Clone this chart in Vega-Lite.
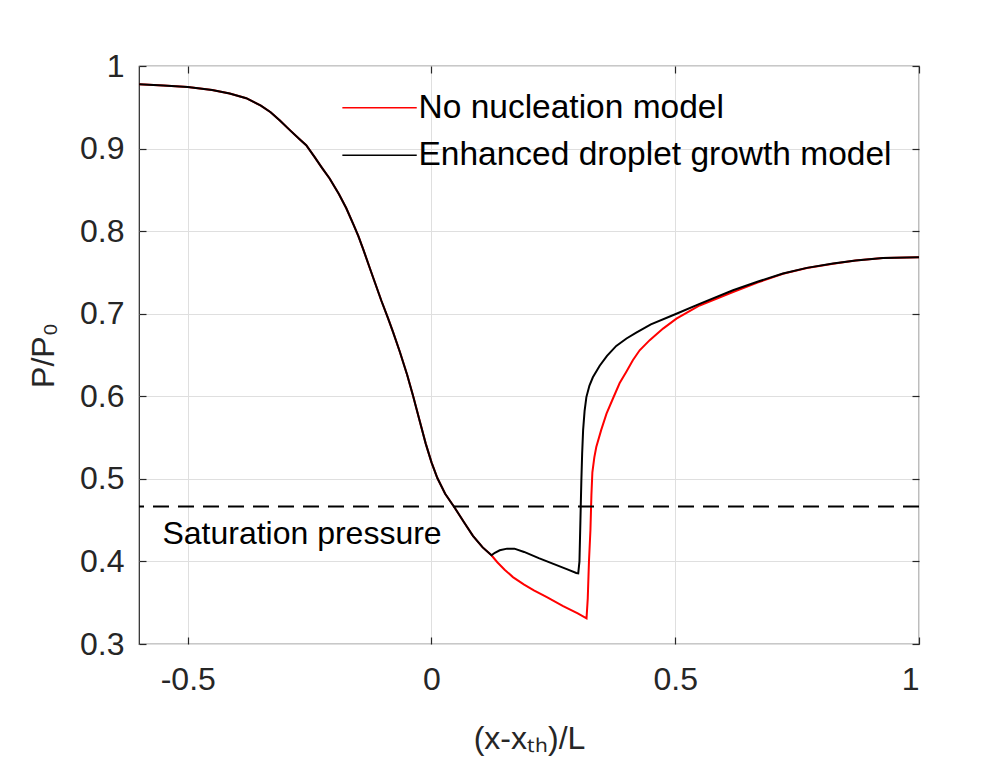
{
  "$schema": "https://vega.github.io/schema/vega-lite/v6.json",
  "width": 780,
  "height": 578,
  "autosize": "none",
  "padding": {"left": 139, "top": 66, "right": 88, "bottom": 117},
  "background": "white",
  "config": {
    "view": {"stroke": "#262626", "strokeWidth": 1.2},
    "font": "Liberation Sans",
    "axis": {
      "labelFont": "Liberation Sans",
      "titleFont": "Liberation Sans",
      "labelColor": "#262626",
      "titleColor": "#262626",
      "tickColor": "#262626",
      "gridColor": "#dfdfdf",
      "gridWidth": 1,
      "domain": false,
      "tickSize": -7,
      "tickWidth": 1.2,
      "labelFontSize": 32,
      "titleFontSize": 32,
      "titleFontWeight": "normal"
    }
  },
  "layer": [
    {
      "data": {
        "values": [
          {"model": "No nucleation model", "x": -0.6, "p": 0.978},
          {"model": "No nucleation model", "x": -0.55, "p": 0.9765},
          {"model": "No nucleation model", "x": -0.5, "p": 0.9746},
          {"model": "No nucleation model", "x": -0.45, "p": 0.971},
          {"model": "No nucleation model", "x": -0.414, "p": 0.9666},
          {"model": "No nucleation model", "x": -0.38, "p": 0.961},
          {"model": "No nucleation model", "x": -0.35, "p": 0.952},
          {"model": "No nucleation model", "x": -0.33, "p": 0.944},
          {"model": "No nucleation model", "x": -0.311, "p": 0.934},
          {"model": "No nucleation model", "x": -0.29, "p": 0.922},
          {"model": "No nucleation model", "x": -0.27, "p": 0.911},
          {"model": "No nucleation model", "x": -0.257, "p": 0.904},
          {"model": "No nucleation model", "x": -0.24, "p": 0.89},
          {"model": "No nucleation model", "x": -0.225, "p": 0.877},
          {"model": "No nucleation model", "x": -0.209, "p": 0.8637},
          {"model": "No nucleation model", "x": -0.19, "p": 0.845},
          {"model": "No nucleation model", "x": -0.175, "p": 0.828},
          {"model": "No nucleation model", "x": -0.16, "p": 0.808},
          {"model": "No nucleation model", "x": -0.15, "p": 0.794},
          {"model": "No nucleation model", "x": -0.14, "p": 0.778},
          {"model": "No nucleation model", "x": -0.127, "p": 0.756},
          {"model": "No nucleation model", "x": -0.115, "p": 0.736},
          {"model": "No nucleation model", "x": -0.103, "p": 0.716},
          {"model": "No nucleation model", "x": -0.09, "p": 0.696},
          {"model": "No nucleation model", "x": -0.079, "p": 0.678},
          {"model": "No nucleation model", "x": -0.065, "p": 0.654},
          {"model": "No nucleation model", "x": -0.05, "p": 0.626},
          {"model": "No nucleation model", "x": -0.038, "p": 0.601},
          {"model": "No nucleation model", "x": -0.025, "p": 0.572},
          {"model": "No nucleation model", "x": -0.012, "p": 0.543},
          {"model": "No nucleation model", "x": 0.0, "p": 0.52},
          {"model": "No nucleation model", "x": 0.012, "p": 0.501},
          {"model": "No nucleation model", "x": 0.028, "p": 0.482},
          {"model": "No nucleation model", "x": 0.0476, "p": 0.465},
          {"model": "No nucleation model", "x": 0.066, "p": 0.448},
          {"model": "No nucleation model", "x": 0.085, "p": 0.431},
          {"model": "No nucleation model", "x": 0.105, "p": 0.417},
          {"model": "No nucleation model", "x": 0.123, "p": 0.4074},
          {"model": "No nucleation model", "x": 0.135, "p": 0.399},
          {"model": "No nucleation model", "x": 0.15, "p": 0.39},
          {"model": "No nucleation model", "x": 0.167, "p": 0.381},
          {"model": "No nucleation model", "x": 0.19, "p": 0.372},
          {"model": "No nucleation model", "x": 0.21, "p": 0.365},
          {"model": "No nucleation model", "x": 0.2357, "p": 0.357},
          {"model": "No nucleation model", "x": 0.27, "p": 0.346},
          {"model": "No nucleation model", "x": 0.3, "p": 0.337},
          {"model": "No nucleation model", "x": 0.318, "p": 0.331},
          {"model": "No nucleation model", "x": 0.3205, "p": 0.355},
          {"model": "No nucleation model", "x": 0.323, "p": 0.4},
          {"model": "No nucleation model", "x": 0.326, "p": 0.4377},
          {"model": "No nucleation model", "x": 0.328, "p": 0.48},
          {"model": "No nucleation model", "x": 0.33, "p": 0.508},
          {"model": "No nucleation model", "x": 0.334, "p": 0.526},
          {"model": "No nucleation model", "x": 0.338, "p": 0.5386},
          {"model": "No nucleation model", "x": 0.348, "p": 0.559},
          {"model": "No nucleation model", "x": 0.359, "p": 0.579},
          {"model": "No nucleation model", "x": 0.372, "p": 0.597},
          {"model": "No nucleation model", "x": 0.386, "p": 0.616},
          {"model": "No nucleation model", "x": 0.4, "p": 0.63},
          {"model": "No nucleation model", "x": 0.413, "p": 0.6436},
          {"model": "No nucleation model", "x": 0.427, "p": 0.6557},
          {"model": "No nucleation model", "x": 0.4476, "p": 0.668},
          {"model": "No nucleation model", "x": 0.475, "p": 0.682},
          {"model": "No nucleation model", "x": 0.5024, "p": 0.694},
          {"model": "No nucleation model", "x": 0.55, "p": 0.71},
          {"model": "No nucleation model", "x": 0.6185, "p": 0.7263},
          {"model": "No nucleation model", "x": 0.67, "p": 0.738},
          {"model": "No nucleation model", "x": 0.721, "p": 0.7483},
          {"model": "No nucleation model", "x": 0.77, "p": 0.7553},
          {"model": "No nucleation model", "x": 0.8236, "p": 0.7605},
          {"model": "No nucleation model", "x": 0.87, "p": 0.7644},
          {"model": "No nucleation model", "x": 0.926, "p": 0.7674},
          {"model": "No nucleation model", "x": 1.0, "p": 0.7685},

          {"model": "Enhanced droplet growth model", "x": -0.6, "p": 0.978},
          {"model": "Enhanced droplet growth model", "x": -0.55, "p": 0.9765},
          {"model": "Enhanced droplet growth model", "x": -0.5, "p": 0.9746},
          {"model": "Enhanced droplet growth model", "x": -0.45, "p": 0.971},
          {"model": "Enhanced droplet growth model", "x": -0.414, "p": 0.9666},
          {"model": "Enhanced droplet growth model", "x": -0.38, "p": 0.961},
          {"model": "Enhanced droplet growth model", "x": -0.35, "p": 0.952},
          {"model": "Enhanced droplet growth model", "x": -0.33, "p": 0.944},
          {"model": "Enhanced droplet growth model", "x": -0.311, "p": 0.934},
          {"model": "Enhanced droplet growth model", "x": -0.29, "p": 0.922},
          {"model": "Enhanced droplet growth model", "x": -0.27, "p": 0.911},
          {"model": "Enhanced droplet growth model", "x": -0.257, "p": 0.904},
          {"model": "Enhanced droplet growth model", "x": -0.24, "p": 0.89},
          {"model": "Enhanced droplet growth model", "x": -0.225, "p": 0.877},
          {"model": "Enhanced droplet growth model", "x": -0.209, "p": 0.8637},
          {"model": "Enhanced droplet growth model", "x": -0.19, "p": 0.845},
          {"model": "Enhanced droplet growth model", "x": -0.175, "p": 0.828},
          {"model": "Enhanced droplet growth model", "x": -0.16, "p": 0.808},
          {"model": "Enhanced droplet growth model", "x": -0.15, "p": 0.794},
          {"model": "Enhanced droplet growth model", "x": -0.14, "p": 0.778},
          {"model": "Enhanced droplet growth model", "x": -0.127, "p": 0.756},
          {"model": "Enhanced droplet growth model", "x": -0.115, "p": 0.736},
          {"model": "Enhanced droplet growth model", "x": -0.103, "p": 0.716},
          {"model": "Enhanced droplet growth model", "x": -0.09, "p": 0.696},
          {"model": "Enhanced droplet growth model", "x": -0.079, "p": 0.678},
          {"model": "Enhanced droplet growth model", "x": -0.065, "p": 0.654},
          {"model": "Enhanced droplet growth model", "x": -0.05, "p": 0.626},
          {"model": "Enhanced droplet growth model", "x": -0.038, "p": 0.601},
          {"model": "Enhanced droplet growth model", "x": -0.025, "p": 0.572},
          {"model": "Enhanced droplet growth model", "x": -0.012, "p": 0.543},
          {"model": "Enhanced droplet growth model", "x": 0.0, "p": 0.52},
          {"model": "Enhanced droplet growth model", "x": 0.012, "p": 0.501},
          {"model": "Enhanced droplet growth model", "x": 0.028, "p": 0.482},
          {"model": "Enhanced droplet growth model", "x": 0.0476, "p": 0.465},
          {"model": "Enhanced droplet growth model", "x": 0.066, "p": 0.448},
          {"model": "Enhanced droplet growth model", "x": 0.085, "p": 0.431},
          {"model": "Enhanced droplet growth model", "x": 0.105, "p": 0.417},
          {"model": "Enhanced droplet growth model", "x": 0.123, "p": 0.4074},
          {"model": "Enhanced droplet growth model", "x": 0.13, "p": 0.4105},
          {"model": "Enhanced droplet growth model", "x": 0.14, "p": 0.4135},
          {"model": "Enhanced droplet growth model", "x": 0.155, "p": 0.4155},
          {"model": "Enhanced droplet growth model", "x": 0.17, "p": 0.4155},
          {"model": "Enhanced droplet growth model", "x": 0.19, "p": 0.4115},
          {"model": "Enhanced droplet growth model", "x": 0.22, "p": 0.404},
          {"model": "Enhanced droplet growth model", "x": 0.25, "p": 0.397},
          {"model": "Enhanced droplet growth model", "x": 0.28, "p": 0.39},
          {"model": "Enhanced droplet growth model", "x": 0.297, "p": 0.386},
          {"model": "Enhanced droplet growth model", "x": 0.301, "p": 0.3855},
          {"model": "Enhanced droplet growth model", "x": 0.3035, "p": 0.4},
          {"model": "Enhanced droplet growth model", "x": 0.3055, "p": 0.45},
          {"model": "Enhanced droplet growth model", "x": 0.3074, "p": 0.498},
          {"model": "Enhanced droplet growth model", "x": 0.309, "p": 0.53},
          {"model": "Enhanced droplet growth model", "x": 0.311, "p": 0.559},
          {"model": "Enhanced droplet growth model", "x": 0.314, "p": 0.582},
          {"model": "Enhanced droplet growth model", "x": 0.3177, "p": 0.599},
          {"model": "Enhanced droplet growth model", "x": 0.324, "p": 0.613},
          {"model": "Enhanced droplet growth model", "x": 0.331, "p": 0.623},
          {"model": "Enhanced droplet growth model", "x": 0.345, "p": 0.637},
          {"model": "Enhanced droplet growth model", "x": 0.36, "p": 0.649},
          {"model": "Enhanced droplet growth model", "x": 0.379, "p": 0.661},
          {"model": "Enhanced droplet growth model", "x": 0.4, "p": 0.67},
          {"model": "Enhanced droplet growth model", "x": 0.42, "p": 0.677},
          {"model": "Enhanced droplet growth model", "x": 0.45, "p": 0.687},
          {"model": "Enhanced droplet growth model", "x": 0.5024, "p": 0.7},
          {"model": "Enhanced droplet growth model", "x": 0.55, "p": 0.712},
          {"model": "Enhanced droplet growth model", "x": 0.6185, "p": 0.7284},
          {"model": "Enhanced droplet growth model", "x": 0.67, "p": 0.739},
          {"model": "Enhanced droplet growth model", "x": 0.721, "p": 0.7486},
          {"model": "Enhanced droplet growth model", "x": 0.77, "p": 0.7555},
          {"model": "Enhanced droplet growth model", "x": 0.8236, "p": 0.7607},
          {"model": "Enhanced droplet growth model", "x": 0.87, "p": 0.7645},
          {"model": "Enhanced droplet growth model", "x": 0.926, "p": 0.7675},
          {"model": "Enhanced droplet growth model", "x": 1.0, "p": 0.7685}
        ]
      },
      "mark": {"type": "line", "strokeWidth": 2},
      "encoding": {
        "x": {
          "field": "x",
          "type": "quantitative",
          "scale": {"domain": [-0.6, 1], "nice": false, "zero": false},
          "axis": {
            "orient": "bottom",
            "values": [-0.5, 0, 0.5, 1],
            "labelExpr": "'' + datum.value",
            "labelPadding": 27,
            "labelBaseline": "top",
            "grid": true,
            "title": "(x-xₜₕ)/L",
            "titleBaseline": "alphabetic",
            "titleY": 104
          }
        },
        "y": {
          "field": "p",
          "type": "quantitative",
          "scale": {"domain": [0.3, 1], "nice": false, "zero": false},
          "axis": {
            "orient": "left",
            "values": [0.3, 0.4, 0.5, 0.6, 0.7, 0.8, 0.9, 1],
            "labelExpr": "'' + datum.value",
            "labelPadding": 22,
            "labelBaseline": "middle",
            "grid": true,
            "title": "P/P₀",
            "titleAngle": -90,
            "titleBaseline": "alphabetic",
            "titleX": -86,
            "titleY": 289
          }
        },
        "color": {
          "field": "model",
          "type": "nominal",
          "scale": {
            "domain": ["No nucleation model", "Enhanced droplet growth model"],
            "range": ["#ff0000", "#000000"]
          },
          "legend": {
            "orient": "none",
            "legendX": 225,
            "legendY": 25,
            "title": null,
            "padding": 0,
            "symbolType": "M-3.2,0H3",
            "symbolSize": 576,
            "symbolStrokeWidth": 1.5,
            "labelFont": "Liberation Sans",
            "labelFontSize": 33.5,
            "labelColor": "#000000",
            "labelOffset": 21,
            "labelLimit": 700,
            "rowPadding": 12.5
          }
        }
      }
    },
    {
      "data": {"values": [{"level": 0.4665, "label": "Saturation pressure"}]},
      "mark": {"type": "rule", "strokeDash": [16, 9], "strokeWidth": 2, "color": "#000000"},
      "encoding": {
        "y": {
          "field": "level",
          "type": "quantitative",
          "axis": {
            "orient": "right",
            "values": [0.3, 0.4, 0.5, 0.6, 0.7, 0.8, 0.9, 1],
            "labels": false,
            "grid": false,
            "title": null
          }
        }
      }
    },
    {
      "data": {"values": [{"level": 0.4665, "label": "Saturation pressure"}]},
      "mark": {"type": "text", "align": "left", "baseline": "alphabetic", "dy": 37, "fontSize": 32, "font": "Liberation Sans", "color": "#000000"},
      "encoding": {
        "x": {
          "datum": -0.552,
          "type": "quantitative",
          "axis": {
            "orient": "top",
            "values": [-0.5, 0, 0.5, 1],
            "labels": false,
            "grid": false,
            "title": null
          }
        },
        "y": {"field": "level", "type": "quantitative", "axis": null},
        "text": {"field": "label"}
      }
    }
  ],
  "resolve": {"axis": {"x": "independent", "y": "independent"}}
}
